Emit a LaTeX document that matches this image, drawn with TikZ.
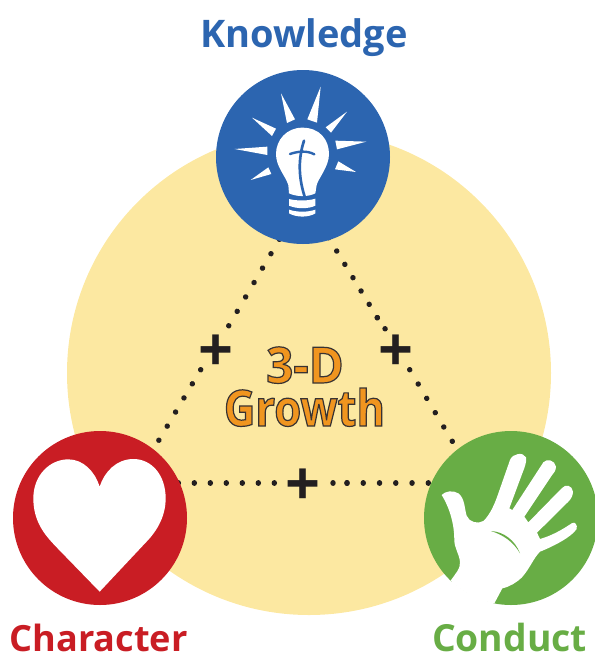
\documentclass[tikz,border=0pt]{standalone}
\usepackage{fontspec}
\setmainfont{Open Sans}
\newfontfamily\growthfont[FakeStretch=0.87]{Open Sans}
\newfontfamily\threedfont[FakeStretch=0.95]{Open Sans}
\definecolor{ygold}{HTML}{FCE8A1}
\definecolor{kblue}{HTML}{2C65B0}
\definecolor{cred}{HTML}{C91D24}
\definecolor{cgreen}{HTML}{68AD45}
\definecolor{gorange}{HTML}{F0951F}
\definecolor{inkdark}{HTML}{231F20}
\newcommand{\outlinedtext}[1]{\special{pdf:code q 2 Tr 0.9 w 0.22 0.2 0.2 RG}#1\special{pdf:code Q}}
\tikzset{
  disc/.style={circle,minimum size=130.5pt,inner sep=0pt,fill=#1},
  title/.style={text=#1,inner sep=0pt,anchor=base},
  dots/.style={line width=4.1pt,line cap=round,inkdark,dash pattern=on 0.01pt off #1*0.75pt-0.01pt},
  plusmark/.style={font=\fontsize{46}{46}\bfseries,text=inkdark,inner sep=0pt},
  growth/.style={text=gorange,inner sep=0pt,anchor=base},
  icon/.style={fill=white,draw=none},
  iconline/.style={draw=kblue,line cap=round,fill=none},
}
\begin{document}
\begin{tikzpicture}[x=0.75pt,y=-0.75pt]
\useasboundingbox (0,0) rectangle (595,654);
\fill[ygold] (309,373) circle (242);
% dotted connectors
\coordinate (a1) at (279.4,239.3); \coordinate (a2) at (228.5,326.2);
\coordinate (a3) at (200.7,369.7); \coordinate (a4) at (158.7,440.5);
\coordinate (b1) at (328.6,237.7); \coordinate (b2) at (377.6,318.1);
\coordinate (b3) at (377.3,317.7); \coordinate (b4) at (385.3,329.1);
\coordinate (b5) at (409.7,369.7); \coordinate (b6) at (452.6,441.8);
\coordinate (c1) at (178.3,483); \coordinate (c2) at (274.6,483);
\coordinate (c3) at (347,483); \coordinate (c4) at (428.8,483);
\coordinate (c5) at (333,483); \coordinate (c6) at (347.4,483);
\draw[dots=16.7] (a1) -- (a2);
\draw[dots=16.4] (a3) -- (a4);
\draw[dots=15.6] (b1) -- (b2);
\draw[dots=13.5] (b3) -- (b4);
\draw[dots=16.66] (b5) -- (b6);
\draw[dots=16] (c1) -- (c2);
\draw[dots=16.26] (c3) -- (c4);
\draw[dots=14] (c5) -- (c6);
% discs
\node[disc=kblue] (know) at (303,157) {};
\node[disc=cred] (char) at (100,518) {};
\node[disc=cgreen] (cond) at (511,518) {};
% bulb
\begin{scope}[shift={(205,85)},x=0.25pt,y=-0.25pt]
  \fill[icon] (228,25) -- (270,103) -- (246,114) -- cycle;
  \fill[icon] (347,5) -- (336,113) -- (307,103) -- cycle;
  \fill[icon] (426,80) -- (378,143) -- (362,127) -- cycle;
  \fill[icon] (141,98) -- (213,131) -- (201,153) -- cycle;
  \fill[icon] (89,192) -- (187,185) -- (187,210) -- cycle;
  \fill[icon] (484,170) -- (396,193) -- (391,167) -- cycle;
  \fill[icon] (137,285) -- (190,247) -- (199,267) -- cycle;
  \fill[icon] (453,261) -- (390,253) -- (400,229) -- cycle;
  \fill[icon] (292,128) .. controls (345,128) and (372,165) .. (372,207)
     .. controls (372,245) and (340,280) .. (335,300) -- (331,325)
     .. controls (310,336) and (275,336) .. (252,325) -- (250,300)
     .. controls (240,270) and (213,245) .. (213,207)
     .. controls (213,165) and (245,128) .. (292,128) -- cycle;
  \fill[icon] (252,342) .. controls (275,348) and (310,348) .. (331,341) -- (331,362)
     .. controls (310,372) and (275,372) .. (252,362) -- cycle;
  \fill[icon] (252,374) .. controls (275,382) and (310,382) .. (331,374) -- (331,385)
     .. controls (310,398) and (275,398) .. (252,385) -- cycle;
  \draw[iconline,line width=2pt] (297,167) .. controls (285,205) and (275,260) .. (299,335);
  \draw[iconline,line width=1.8pt] (255,207) .. controls (275,200) and (305,195) .. (328,208);
\end{scope}
% heart
\begin{scope}[shift={(5,425)},x=0.25pt,y=-0.25pt]
  \fill[icon] (284,500) -- (150,362) .. controls (120,330) and (85,290) .. (85,220)
    .. controls (85,150) and (135,103) .. (190,103)
    .. controls (235,103) and (270,140) .. (284,185)
    .. controls (298,140) and (335,102) .. (385,102)
    .. controls (440,102) and (482,150) .. (482,220)
    .. controls (482,280) and (450,325) .. (420,355) -- cycle;
\end{scope}
% hand
\begin{scope}
  \clip (511,518) circle (87);
  \begin{scope}[shift={(415,425)},x=0.25pt,y=-0.25pt]
    \fill[icon] (80,210) .. controls (90,198) and (115,195) .. (130,205)
      .. controls (150,220) and (148,250) .. (155,272)
      .. controls (162,292) and (190,298) .. (205,288)
      .. controls (225,270) and (240,235) .. (250,205)
      -- (285,105) .. controls (292,85) and (325,80) .. (333,97)
      .. controls (336,110) and (328,130) .. (322,145)
      -- (283,250) -- (292,255) -- (385,112)
      .. controls (395,100) and (420,105) .. (423,125)
      .. controls (423,138) and (415,145) .. (410,152)
      -- (328,275) -- (340,292) -- (440,190)
      .. controls (452,175) and (472,182) .. (474,200)
      .. controls (474,212) and (468,222) .. (460,230)
      -- (366,323) -- (375,342)
      .. controls (410,332) and (440,315) .. (470,295)
      .. controls (480,288) and (488,300) .. (485,312)
      .. controls (470,335) and (420,362) .. (375,380)
      .. controls (355,400) and (345,430) .. (320,458)
      .. controls (305,472) and (285,485) .. (262,490)
      -- (230,550) -- (100,480) -- (107,467)
      .. controls (118,450) and (138,430) .. (135,410)
      .. controls (132,385) and (118,370) .. (118,345)
      .. controls (118,300) and (105,250) .. (80,210) -- cycle;
    \fill[cgreen] (228,318) .. controls (265,320) and (300,345) .. (315,385)
      .. controls (295,350) and (265,330) .. (228,318) -- cycle;
  \end{scope}
\end{scope}
\draw[white,line width=1.2pt] (cond.center) ++(132.5:87.3) arc[start angle=132.5,end angle=102,radius=87.3];
% titles
\node[title=kblue,font=\fontsize{28.5}{30}\bfseries] (tk) at (304,47) {Knowledge};
\node[title=cred,font=\fontsize{27.1}{30}\bfseries] (tc) at (98.5,651) {Character};
\node[title=cgreen,font=\fontsize{28}{30}\bfseries] (td) at (509.5,651) {Conduct};
% plus marks
\node[plusmark] (p1) at (216.3,353) {+};
\node[plusmark] (p2) at (396.3,353) {+};
\node[plusmark] (p3) at (303.2,487) {+};
% centre
\node[growth,font=\threedfont\fontsize{37.5}{37}\bfseries] (g1) at (305,383) {\outlinedtext{3-D}};
\node[growth,font=\growthfont\fontsize{37.5}{37}\bfseries] (g2) at (304.5,426) {\outlinedtext{Growth}};
\end{tikzpicture}
\end{document}
